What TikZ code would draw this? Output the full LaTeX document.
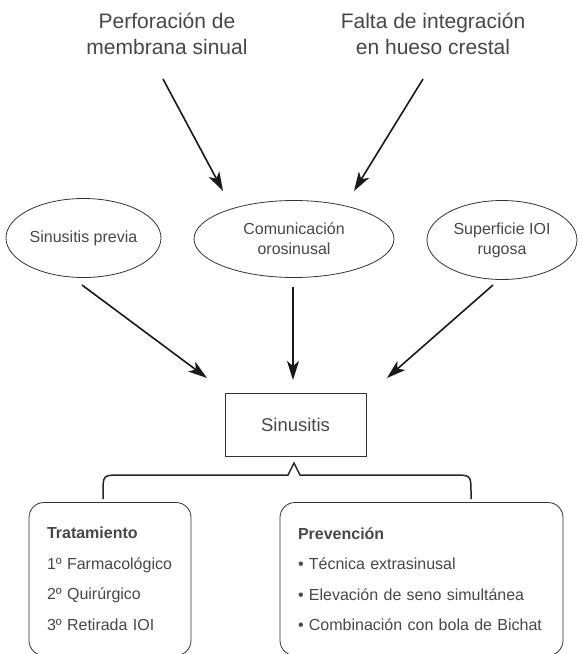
\documentclass[tikz,border=0pt]{standalone}
\usepackage{fontspec}
\setmainfont{Liberation Sans}
\usetikzlibrary{shapes.geometric,arrows.meta}
\definecolor{txt}{HTML}{474747}
\definecolor{edge}{HTML}{333333}
\begin{document}
\begin{tikzpicture}[x=1pt,y=-1pt,
  toptext/.style={align=center,text=txt,inner sep=0pt,font=\fontsize{21}{25.5}\selectfont},
  oval/.style={ellipse,draw=edge,line width=0.8pt,inner sep=0pt,align=center,text=txt,font=\fontsize{16}{20}\selectfont},
  mainbox/.style={rectangle,draw=edge,line width=0.9pt,minimum width=141pt,minimum height=63pt,text=txt,font=\fontsize{18.5}{22}\selectfont},
  listbox/.style={rectangle,rounded corners=15pt,draw=edge,line width=0.8pt,inner xsep=18pt,inner ysep=0pt,align=left,text=txt,minimum height=153pt,font=\fontsize{16}{30.5}\selectfont},
  arr/.style={line width=1.6pt,draw=black!90,-{Stealth[length=19pt,width=12pt,inset=5pt]}},
  bracket/.style={line width=1.5pt,draw=black!85}
]
\useasboundingbox (0,0) rectangle (582,654);

% top texts
\node[toptext] (perf) at (167,34) {Perforación de\\membrana sinual};
\node[toptext] (falta) at (433,34) {Falta de integración\\en hueso crestal};

% ellipses
\node[oval,minimum width=155pt,minimum height=79pt] (prev) at (83.5,238) {Sinusitis previa};
\node[oval,minimum width=200pt,minimum height=77pt] (com) at (294,239) {Comunicación\\orosinusal};
\node[oval,minimum width=150pt,minimum height=79pt] (sup) at (502,240) {Superficie IOI\\rugosa};

% central box
\node[mainbox] (sin) at (295.5,424.5) {Sinusitis};

% bottom boxes
\node[listbox,text width=126pt] (trat) at (110,579)
  {\textbf{Tratamiento}\\1º Farmacológico\\2º Quirúrgico\\3º Retirada IOI};
\node[listbox,text width=247pt] (prevn) at (421.5,579)
  {\textbf{Prevención}\\• Técnica extrasinusal\\• Elevación de seno simultánea\\• Combinación con bola de Bichat};

% arrow end points (arrows float free of the nodes)
\coordinate (a1s) at (163,79);  \coordinate (a1e) at (223,191);
\coordinate (a2s) at (423,79);  \coordinate (a2e) at (354,191);
\coordinate (b1s) at (82,285);  \coordinate (b1e) at (207,378);
\coordinate (b2s) at (293,287); \coordinate (b2e) at (293,380);
\coordinate (b3s) at (493,285); \coordinate (b3e) at (387,378);

\draw[arr] (a1s) -- (a1e);
\draw[arr] (a2s) -- (a2e);
\draw[arr] (b1s) -- (b1e);
\draw[arr] (b2s) -- (b2e);
\draw[arr] (b3s) -- (b3e);

% bracket under Sinusitis
\coordinate (bl) at (103,499);
\coordinate (br) at (471,499);
\coordinate (bp) at (294,463);
\draw[bracket] (bl) -- (103,493) .. controls (103,475) .. (121,475) -- (288,475) -- (bp) -- (300,475) -- (453,475) .. controls (471,475) .. (471,493) -- (br);
\end{tikzpicture}
\end{document}
